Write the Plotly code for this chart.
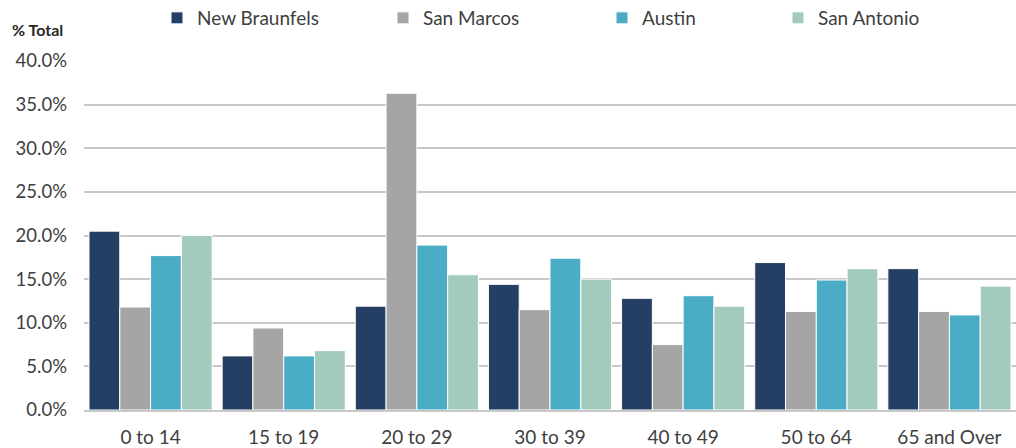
import plotly.graph_objects as go

categories = ["0 to 14", "15 to 19", "20 to 29", "30 to 39", "40 to 49", "50 to 64", "65 and Over"]
new_braunfels = [20.5, 6.2, 11.9, 14.4, 12.8, 16.9, 16.2]
san_marcos = [11.8, 9.4, 36.3, 11.5, 7.5, 11.3, 11.3]
austin = [17.7, 6.2, 18.9, 17.4, 13.1, 14.9, 10.9]
san_antonio = [20.0, 6.8, 15.5, 15.0, 11.9, 16.2, 14.2]

series = [
    ("New Braunfels", new_braunfels, "#243F63"),
    ("San Marcos", san_marcos, "#A5A5A5"),
    ("Austin", austin, "#4BACC6"),
    ("San Antonio", san_antonio, "#A2CBBD"),
]

PL, PT, PB, W, H = 84, 61, 38, 1016, 448
PW = W - PL
PH = H - PT - PB
legend_text_px = [197, 423, 642, 818]

fig = go.Figure()
legend_ids = ["legend", "legend2", "legend3", "legend4"]
for (name, vals, col), lid in zip(series, legend_ids):
    fig.add_trace(go.Bar(
        x=categories, y=vals, name=name, legend=lid, showlegend=True,
        marker=dict(color=col, line=dict(color="white", width=1)),
    ))

font = "Lato, Carlito, Calibri, sans-serif"
layout_legends = {}
for lid, px in zip(legend_ids, legend_text_px):
    layout_legends[lid] = dict(
        orientation="h", x=(px - 40 - PL) / PW, xanchor="left",
        y=(H - PB - 18) / PH, yanchor="middle",
        font=dict(size=19, color="#404040"), itemclick=False,
        bgcolor="rgba(0,0,0,0)",
    )

fig.update_layout(
    width=W, height=H, showlegend=True,
    margin=dict(l=PL, r=0, t=PT, b=PB, autoexpand=False),
    paper_bgcolor="white", plot_bgcolor="white",
    barmode="group", bargap=0.075, bargroupgap=0.0,
    font=dict(family=font, size=19, color="#404040"),
    yaxis=dict(
        range=[0, 40], dtick=5, tickformat=".1f", ticksuffix="%",
        showgrid=True, gridcolor="#C8C8C8", gridwidth=2,
        zeroline=False, ticks="", ticklabelstandoff=16,
        tickfont=dict(size=18.5, color="#404040"),
    ),
    xaxis=dict(
        showline=True, linecolor="#C8C8C8", linewidth=2,
        ticks="", ticklabelstandoff=9,
        tickfont=dict(size=19, color="#404040"),
    ),
    annotations=[dict(
        text="<b>% Total</b>", xref="paper", yref="paper",
        x=(10 - PL) / PW, y=(H - PB - 30) / PH, xanchor="left", yanchor="middle",
        showarrow=False, font=dict(size=16, color="#262626"),
    )],
    **layout_legends,
)

fig.write_html("out.html")
